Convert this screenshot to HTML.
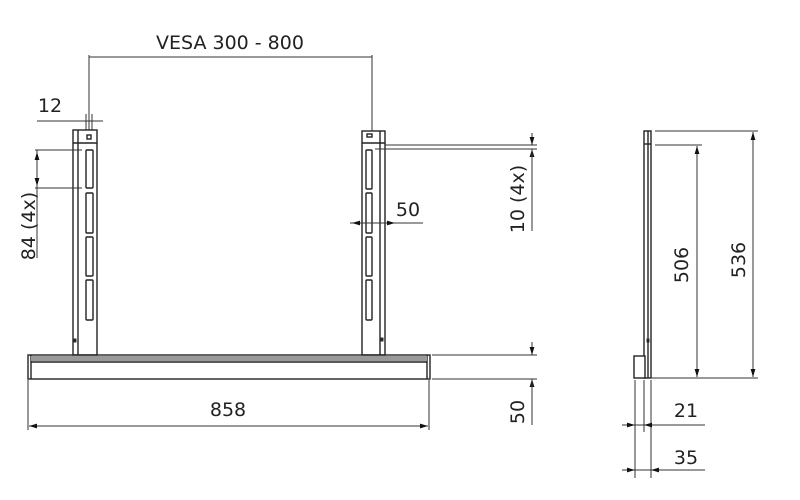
<!DOCTYPE html>
<html><head><meta charset="utf-8"><style>
html,body{margin:0;padding:0;background:#fff}
svg{display:block}
text{font-family:"DejaVu Sans","Liberation Sans",sans-serif;fill:#222}
</style></head><body>
<svg width="800" height="500" viewBox="0 0 800 500" xmlns="http://www.w3.org/2000/svg">
<defs>
<marker id="a" viewBox="0 0 10 6" refX="10" refY="3" markerWidth="8" markerHeight="5" orient="auto-start-reverse"><path d="M0,0L10,3L0,6z" fill="#111"/></marker>
</defs>
<g stroke="#333" stroke-width="1" fill="none">
<!-- VESA dim -->
<line x1="89" y1="55" x2="89" y2="130"/>
<line x1="372" y1="55" x2="372" y2="131"/>
<line x1="89" y1="57" x2="372" y2="57"/>
<!-- 12 dim -->
<line x1="37" y1="121" x2="103" y2="121"/>
<line x1="86" y1="114" x2="86" y2="130"/>
<line x1="92" y1="114" x2="92" y2="130"/>
<!-- left post -->
<g stroke="#222" stroke-width="1.4">
<rect x="73" y="130" width="24" height="225"/>
<line x1="78" y1="130" x2="78" y2="355"/>
<line x1="73" y1="143" x2="97" y2="143"/>
<rect x="87" y="135" width="4" height="4"/>
<rect x="86" y="150" width="7" height="38" rx="1"/>
<rect x="86" y="193" width="7" height="40" rx="1"/>
<rect x="86" y="237" width="7" height="39" rx="1"/>
<rect x="86" y="280" width="7" height="40" rx="1"/>
</g>
<rect x="74" y="339" width="2" height="3" fill="#111"/>
<!-- 84 dim -->
<line x1="35" y1="150" x2="82" y2="150"/>
<line x1="35" y1="188" x2="82" y2="188"/>
<line x1="37" y1="150" x2="37" y2="258"/>
<line x1="37" y1="152" x2="37" y2="186" marker-start="url(#a)" marker-end="url(#a)"/>
<!-- right post -->
<g stroke="#222" stroke-width="1.4">
<rect x="362" y="131" width="23" height="224"/>
<line x1="380" y1="131" x2="380" y2="355"/>
<line x1="362" y1="143" x2="385" y2="143"/>
<rect x="367" y="134" width="5" height="3"/>
<rect x="366" y="150" width="6" height="39" rx="1"/>
<rect x="366" y="193" width="6" height="40" rx="1"/>
<rect x="366" y="237" width="6" height="39" rx="1"/>
<rect x="366" y="280" width="6" height="40" rx="1"/>
</g>
<rect x="381" y="338" width="2" height="3" fill="#111"/>
<!-- 10 dim -->
<line x1="385" y1="145" x2="537" y2="145"/>
<line x1="375" y1="149" x2="537" y2="149"/>
<line x1="532" y1="133" x2="532" y2="145" marker-end="url(#a)"/>
<line x1="532" y1="161" x2="532" y2="149" marker-end="url(#a)"/>
<line x1="532" y1="149" x2="532" y2="231"/>
<!-- 50 width dim -->
<line x1="350" y1="223" x2="423" y2="223"/>
<line x1="352" y1="223" x2="362" y2="223" marker-start="url(#a)"/>
<line x1="385" y1="223" x2="395" y2="223" marker-end="url(#a)"/>
<!-- base bar -->
<g stroke="#222" stroke-width="1.4">
<rect x="28" y="355" width="402" height="24"/>
<line x1="31" y1="362" x2="427" y2="362"/>
<line x1="31" y1="355" x2="31" y2="379"/>
<line x1="427" y1="355" x2="427" y2="379"/>
</g>
<rect x="31" y="356" width="396" height="5" fill="#999" stroke="none"/>
<!-- 50 height dim -->
<line x1="432" y1="355" x2="537" y2="355"/>
<line x1="432" y1="379" x2="537" y2="379"/>
<line x1="532" y1="342" x2="532" y2="355" marker-end="url(#a)"/>
<line x1="532" y1="392" x2="532" y2="379" marker-end="url(#a)"/>
<line x1="532" y1="379" x2="532" y2="425"/>
<!-- 858 dim -->
<line x1="28" y1="380" x2="28" y2="430"/>
<line x1="429" y1="380" x2="429" y2="430"/>
<line x1="29" y1="426" x2="428" y2="426" marker-start="url(#a)" marker-end="url(#a)"/>
<!-- side view -->
<g stroke="#222" stroke-width="1.4">
<rect x="644" y="131" width="7" height="247"/>
<line x1="648" y1="131" x2="648" y2="378"/>
<line x1="644" y1="144" x2="651" y2="144"/>
<rect x="634" y="356" width="11" height="22" fill="#fff"/>
</g>
<rect x="647" y="339" width="2" height="3" fill="#111"/>
<line x1="655" y1="131" x2="758" y2="131"/>
<line x1="655" y1="145" x2="702" y2="145"/>
<line x1="651" y1="378" x2="758" y2="378"/>
<line x1="753" y1="132" x2="753" y2="377" marker-start="url(#a)" marker-end="url(#a)"/>
<line x1="697" y1="146" x2="697" y2="377" marker-start="url(#a)" marker-end="url(#a)"/>
<!-- 21/35 -->
<line x1="635" y1="380" x2="635" y2="478"/>
<line x1="644" y1="380" x2="644" y2="432"/>
<line x1="651" y1="380" x2="651" y2="478"/>
<line x1="622" y1="425" x2="705" y2="425"/>
<line x1="624" y1="425" x2="635" y2="425" marker-end="url(#a)"/>
<line x1="655" y1="425" x2="644" y2="425" marker-end="url(#a)"/>
<line x1="622" y1="470" x2="705" y2="470"/>
<line x1="624" y1="470" x2="635" y2="470" marker-end="url(#a)"/>
<line x1="662" y1="470" x2="651" y2="470" marker-end="url(#a)"/>
</g>
<g font-size="19">
<text x="230" y="49" text-anchor="middle">VESA 300 - 800</text>
<text x="50" y="112" text-anchor="middle">12</text>
<text x="408" y="216" text-anchor="middle">50</text>
<text x="228" y="416" text-anchor="middle">858</text>
<text x="686" y="417" text-anchor="middle">21</text>
<text x="686" y="464" text-anchor="middle">35</text>
<text transform="translate(35,226) rotate(-90)" text-anchor="middle">84 (4x)</text>
<text transform="translate(524,199) rotate(-90)" text-anchor="middle">10 (4x)</text>
<text transform="translate(524,412) rotate(-90)" text-anchor="middle">50</text>
<text transform="translate(688,265) rotate(-90)" text-anchor="middle">506</text>
<text transform="translate(745,260) rotate(-90)" text-anchor="middle">536</text>
</g>
</svg>
</body></html>
